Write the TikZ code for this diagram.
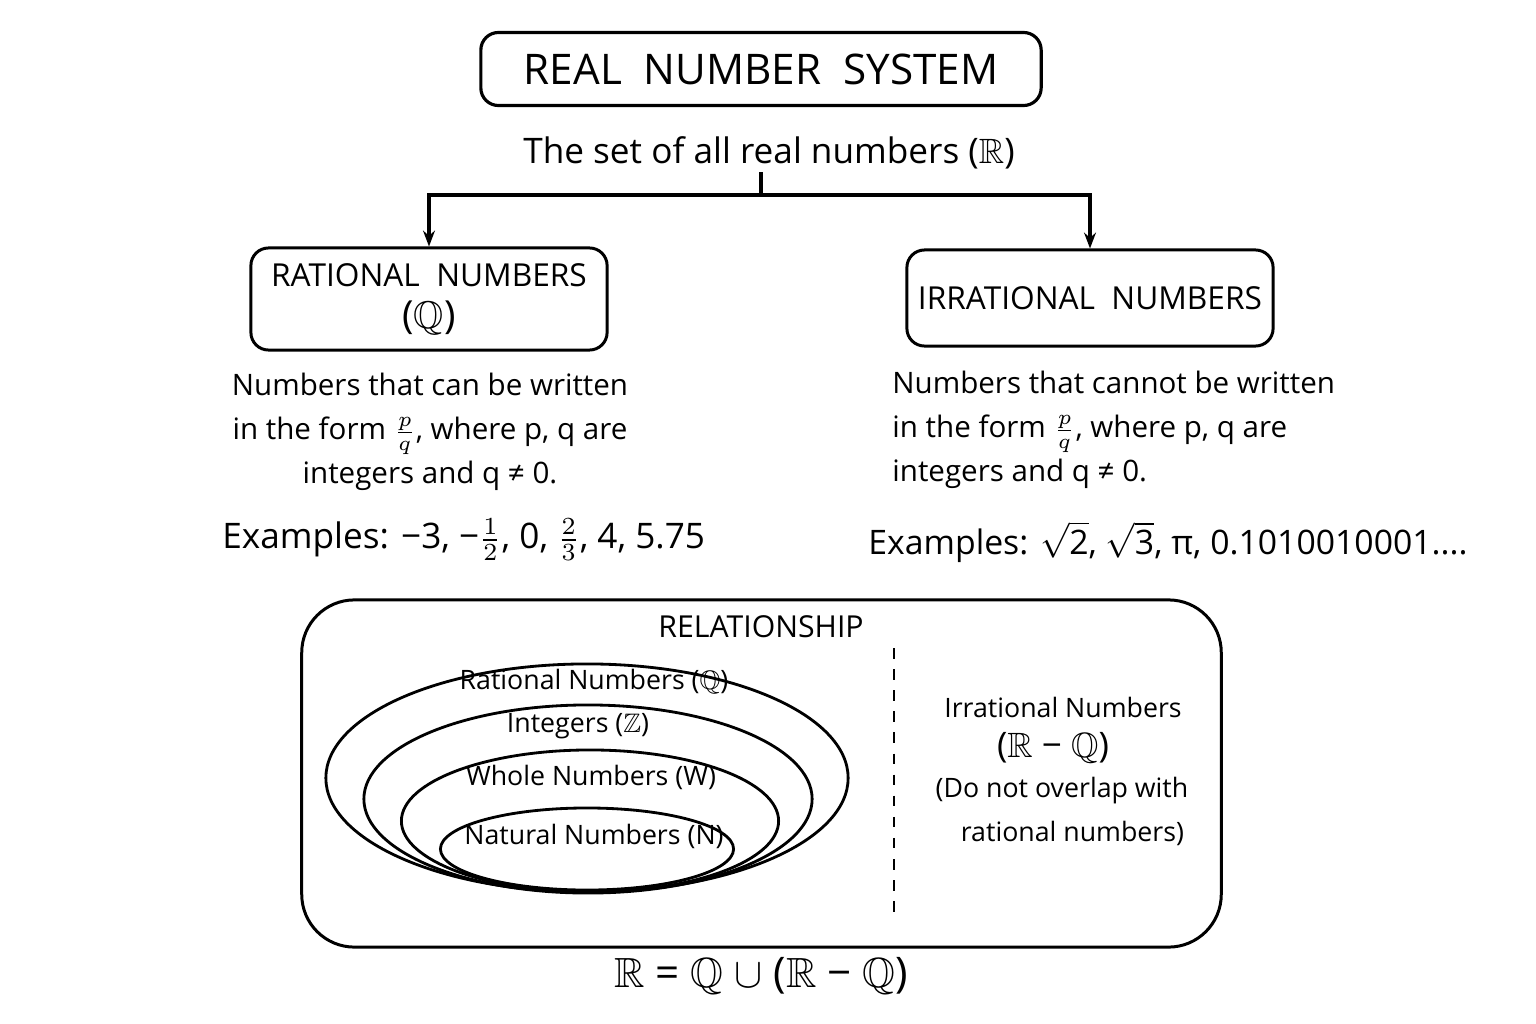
\documentclass[tikz,border=0pt]{standalone}
\usepackage{amsmath}
\usepackage{amssymb}
\usepackage{fontspec}
\setmainfont{Open Sans}
\usetikzlibrary{positioning, calc, arrows.meta, shapes.geometric}
\tikzset{
    titlebox/.style={
        draw, line width=0.9pt, rounded corners=5pt, font=\fontsize{12}{14}\selectfont, inner sep=0pt
    },
    kindbox/.style={
        draw, line width=0.85pt, rounded corners=5pt, font=\fontsize{9}{11}\selectfont, align=center, inner sep=0pt
    },
    ptr/.style={
        -{Stealth[length=4.5pt]}, line width=0.9pt
    },
    settext/.style={
        font=\fontsize{8.4}{12.5}\selectfont, align=left
    },
    ring/.style={
        ellipse, draw, line width=0.8pt, inner sep=0pt
    },
    ringlabel/.style={
        font=\fontsize{7.6}{9}\selectfont
    }
}
\begin{document}
\begin{tikzpicture}[x=0.01cm, y=-0.01cm]
    \useasboundingbox (0,0) rectangle (1536,1024);
    \node[titlebox, minimum width=5.6cm, minimum height=0.73cm] (title) at (761,69) {REAL\ \ NUMBER\ \ SYSTEM};
    \node[font=\fontsize{10}{12}\selectfont] (sub) at (769,153) {The set of all real numbers ($\mathbb{R}$)};
    \coordinate (split) at (761,195);
    \node[kindbox, minimum width=3.56cm, minimum height=1.02cm] (rat) at (429,299) {RATIONAL\ \ NUMBERS\\[1pt] {\fontsize{11}{13}\selectfont($\mathbb{Q}$)}};
    \node[kindbox, minimum width=3.66cm, minimum height=0.96cm] (irr) at (1090,298) {IRRATIONAL\ \ NUMBERS};
    \draw[line width=0.9pt] (761,172) -- (split);
    \draw[ptr] (split) -| (rat.north);
    \draw[ptr] (split) -| (irr.north);
    % descriptions
    \node[settext, align=center] (ratdef) at (430,432) {Numbers that can be written\\ in the form $\frac{p}{q}$, where p, q are\\ integers and q ≠ 0.};
    \node[settext, anchor=west] (irrdef) at (880,430) {Numbers that cannot be written\\ in the form $\frac{p}{q}$, where p, q are\\ integers and q ≠ 0.};
    \node[font=\fontsize{10}{12}\selectfont, anchor=west] (ratex) at (210,540) {Examples: −3, −$\tfrac{1}{2}$, 0, $\tfrac{2}{3}$, 4, 5.75};
    \node[font=\fontsize{9.6}{12}\selectfont, anchor=west] (irrex) at (856,542) {Examples: $\sqrt{\text{2}}$, $\sqrt{\text{3}}$, π, 0.1010010001....};
    % relationship
    \node[draw, line width=0.85pt, rounded corners=15pt, minimum width=9.19cm, minimum height=3.47cm] (rel) at (761.5,773.5) {};
    \node[font=\fontsize{8.6}{10}\selectfont] (reltitle) at (761,627) {RELATIONSHIP};
    \node[ring, minimum width=5.22cm, minimum height=2.28cm] (rQ) at (587,778) {};
    \node[ring, minimum width=4.48cm, minimum height=1.88cm] (rZ) at (588,799) {};
    \node[ring, minimum width=3.77cm, minimum height=1.42cm] (rW) at (590,821) {};
    \node[ring, minimum width=2.93cm, minimum height=0.82cm] (rN) at (587,849) {};
    \node[ringlabel] (lQ) at (594,682) {Rational Numbers ($\mathbb{Q}$)};
    \node[ringlabel] (lZ) at (578,726) {Integers ($\mathbb{Z}$)};
    \node[ringlabel] (lW) at (591,777) {Whole Numbers (W)};
    \node[ringlabel] (lN) at (594,836) {Natural Numbers (N)};
    \coordinate (cut1) at (894,648);
    \coordinate (cut2) at (894,915);
    \draw[dashed, line width=0.7pt] (cut1) -- (cut2);
    \node[ringlabel] (irrname) at (1063,707) {Irrational Numbers};
    \node[font=\fontsize{10}{12}\selectfont] (irrset) at (1053,748) {($\mathbb{R}$ − $\mathbb{Q}$)};
    \node[ringlabel, align=center, font=\fontsize{7.6}{12.5}\selectfont] (irrnote) at (1062,811) {(Do not overlap with\\ \ \ \ rational numbers)};
    \node[font=\fontsize{12}{14}\selectfont] (union) at (761,976) {$\mathbb{R}$ = $\mathbb{Q}$ $\cup$ ($\mathbb{R}$ − $\mathbb{Q}$)};
\end{tikzpicture}
\end{document}
